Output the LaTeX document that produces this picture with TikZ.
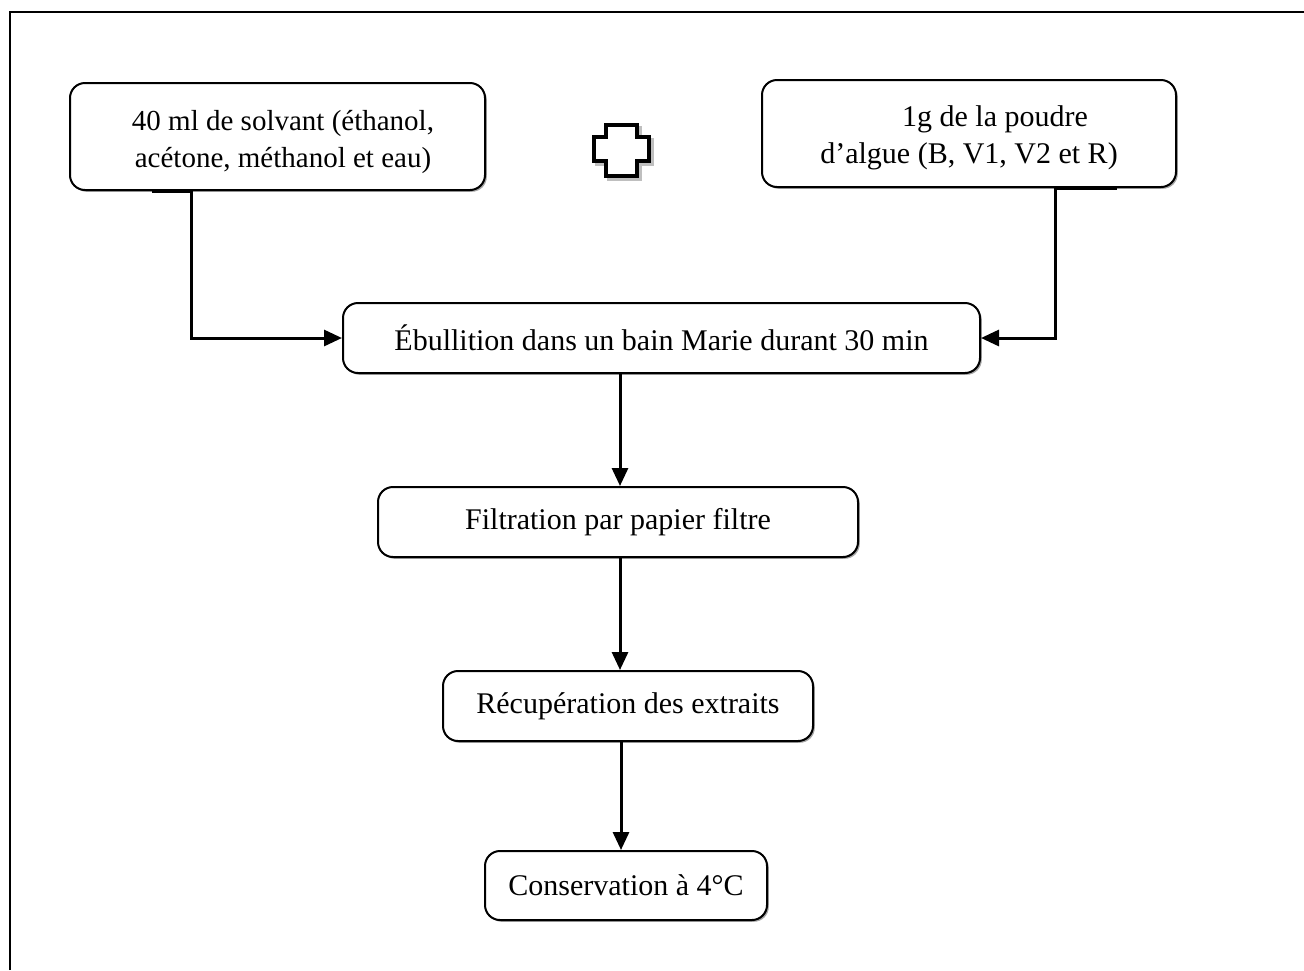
\documentclass[tikz,border=0pt]{standalone}
\usepackage{fontspec}
\setmainfont{Liberation Serif}
\usetikzlibrary{arrows.meta,shadows}
\begin{document}
\begin{tikzpicture}[x=1pt,y=-1pt,
  boxshape/.style={draw, fill=white, line width=2pt, rounded corners=15pt, inner sep=0pt,
    drop shadow={shadow xshift=1.8pt, shadow yshift=-1.8pt, fill=black!35, opacity=1}},
  txt/.style={align=center, font=\fontsize{30}{37}\selectfont, inner sep=0pt},
  stepbox/.style={boxshape, txt},
  arr/.style={line width=3pt, -{Triangle[length=18pt,width=16pt]}},
  frame/.style={line width=2.2pt}
]
\useasboundingbox (0,0) rectangle (1304,970);
% outer frame
\coordinate (f1) at (10,970);
\coordinate (f2) at (10,12);
\coordinate (f3) at (1304,12);
\draw[frame] (f1) -- (f2) -- (f3);

% boxes
\node[boxshape, minimum width=415pt, minimum height=107pt] (A) at (277.5,136.5) {};
\node[txt, font=\fontsize{29}{37}\selectfont] (At) at (283,142)
  {40 ml de solvant (éthanol,\\acétone, méthanol et eau)};
\node[boxshape, minimum width=414pt, minimum height=107pt] (B) at (969,133.5) {};
\node[txt] (Bt) at (969,137.5)
  {\hspace*{52pt}1g de la poudre\\d’algue (B, V1, V2 et R)};
\node[stepbox, minimum width=637pt, minimum height=70pt] (C) at (661.5,338)
  {Ébullition dans un bain Marie durant 30 min};
\node[stepbox, minimum width=480pt, minimum height=70pt] (D) at (618,522)
  {Filtration par papier filtre};
\node[stepbox, minimum width=370pt, minimum height=70pt] (E) at (628,706)
  {Récupération des extraits};
\node[stepbox, minimum width=282pt, minimum height=69pt] (F) at (626,885.5)
  {Conservation à 4°C};

% plus sign
\draw[line width=4pt, black!25, xshift=3pt, yshift=-3pt]
  (606,125) -- (637,125) -- (637,137) -- (649,137) -- (649,161) -- (637,161)
  -- (637,176) -- (606,176) -- (606,161) -- (594,161) -- (594,137) -- (606,137) -- cycle;
\draw[line width=4pt, fill=white]
  (606,125) -- (637,125) -- (637,137) -- (649,137) -- (649,161) -- (637,161)
  -- (637,176) -- (606,176) -- (606,161) -- (594,161) -- (594,137) -- (606,137) -- cycle;

% connectors
\coordinate (aS0) at (152,191);
\coordinate (aS) at (191,191);
\coordinate (bS0) at (1117,188);
\coordinate (bS) at (1055,188);
\draw[line width=3.5pt] (aS0) -- (aS);
\draw[line width=3.5pt] (bS0) -- (bS);
\draw[arr] (aS) |- (C.west);
\draw[arr] (bS) |- (C.east);
\draw[arr] (C.south -| 620,0) -- (D.north -| 620,0);
\draw[arr] (D.south -| 620,0) -- (E.north -| 620,0);
\draw[arr] (E.south -| 621,0) -- (F.north -| 621,0);
\end{tikzpicture}
\end{document}
